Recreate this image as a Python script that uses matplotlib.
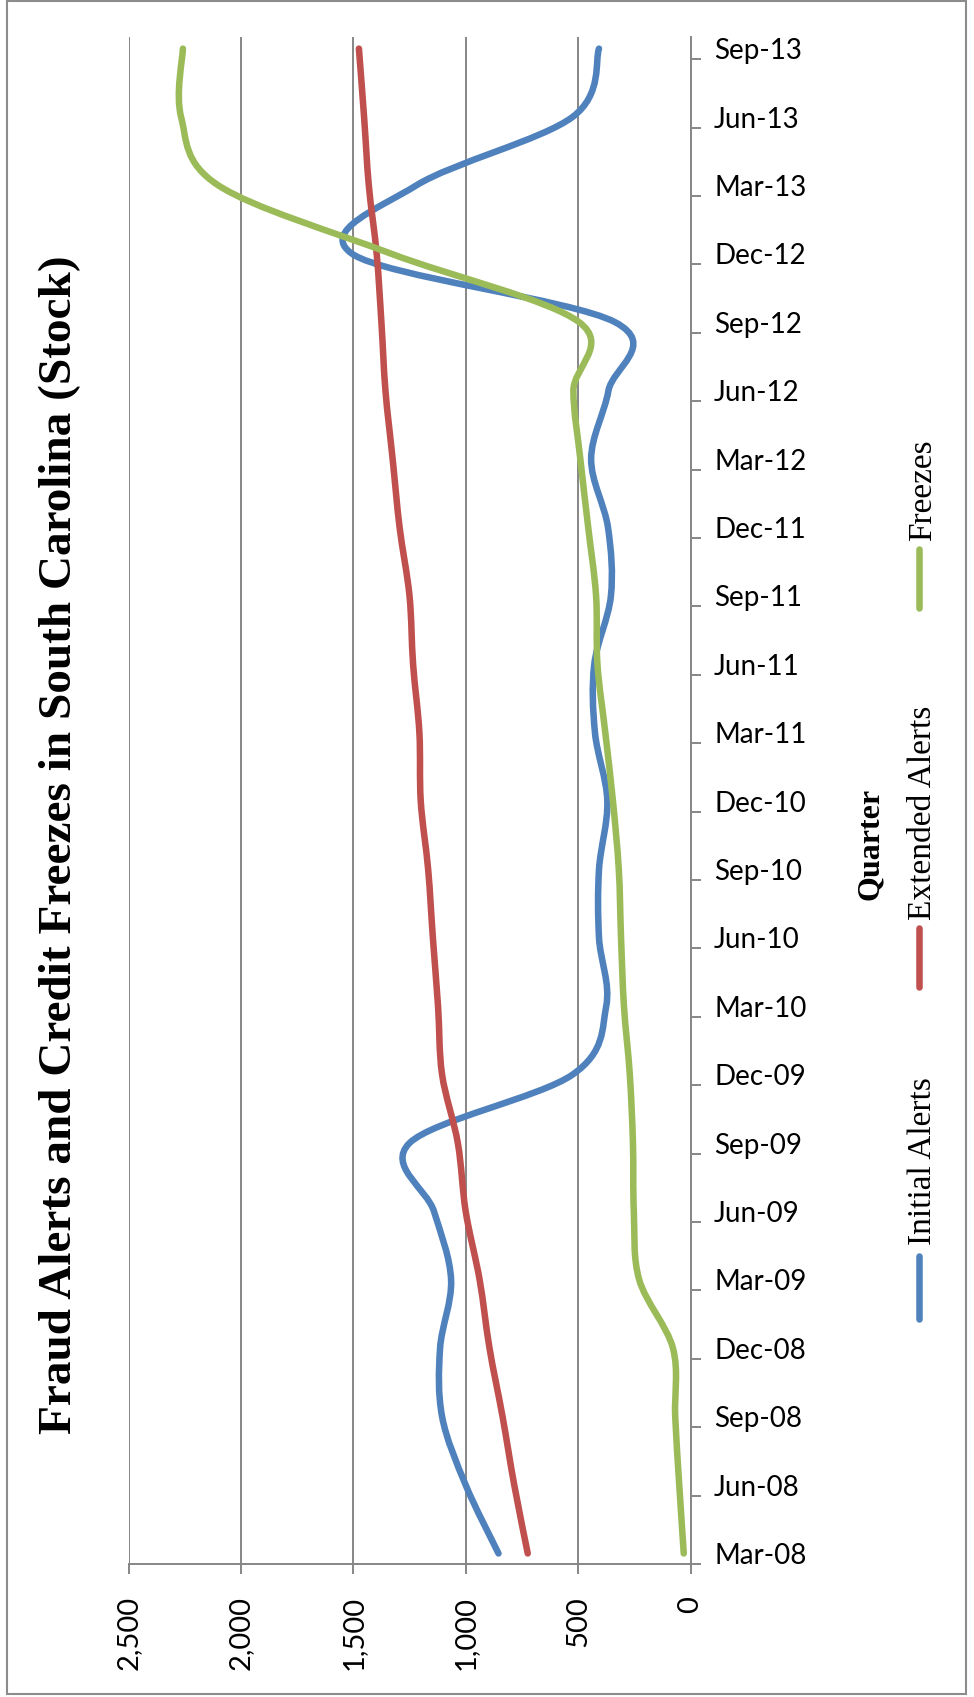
import matplotlib
matplotlib.use("Agg")
import matplotlib.pyplot as plt
from matplotlib.path import Path
from matplotlib.patches import PathPatch, Rectangle
from matplotlib.lines import Line2D

quarters = ["Mar-08", "Jun-08", "Sep-08", "Dec-08", "Mar-09", "Jun-09", "Sep-09", "Dec-09",
            "Mar-10", "Jun-10", "Sep-10", "Dec-10", "Mar-11", "Jun-11", "Sep-11", "Dec-11",
            "Mar-12", "Jun-12", "Sep-12", "Dec-12", "Mar-13", "Jun-13", "Sep-13"]
initial_alerts = [854, 1000, 1105, 1114, 1065, 1141, 1250, 525, 375, 407, 407, 370,
                  425, 428, 354, 367, 442, 365, 335, 1505, 1220, 525, 407]
extended_alerts = [724, 784, 836, 894, 938, 1000, 1035, 1105, 1123, 1146, 1167, 1200,
                   1206, 1234, 1250, 1294, 1325, 1357, 1375, 1396, 1431, 1452, 1475]
freezes = [30, 50, 68, 78, 228, 252, 256, 270, 296, 309, 319, 345,
           379, 414, 420, 455, 490, 521, 495, 1330, 2100, 2266, 2258]
value_ticks = [0, 500, 1000, 1500, 2000, 2500]

series = [("Initial Alerts", initial_alerts, "#4F81BD"),
          ("Extended Alerts", extended_alerts, "#C0504D"),
          ("Freezes", freezes, "#9BBB59")]

W, H = 974, 1697
GRAY = "#868686"
SERIF = "Liberation Serif"
SANS = ["Lato", "DejaVu Sans"]


def smooth_path(xs, ys):
    # excel style smoothed line: cubic bezier through every point
    pts = list(zip(xs, ys))
    n = len(pts)
    verts = [pts[0]]
    codes = [Path.MOVETO]
    for i in range(n - 1):
        p0 = pts[max(i - 1, 0)]
        p1 = pts[i]
        p2 = pts[i + 1]
        p3 = pts[min(i + 2, n - 1)]
        c1 = (p1[0] + (p2[0] - p0[0]) / 6, p1[1] + (p2[1] - p0[1]) / 6)
        c2 = (p2[0] - (p3[0] - p1[0]) / 6, p2[1] - (p3[1] - p1[1]) / 6)
        verts += [c1, c2, p2]
        codes += [Path.CURVE4] * 3
    return Path(verts, codes)


fig = plt.figure(figsize=(W / 100, H / 100), dpi=100)
ax = fig.add_axes([128.5 / W, 1 - 1564 / H, 562 / W, 1527 / H])

pos = list(range(len(quarters)))
for name, vals, color in series:
    patch = PathPatch(smooth_path(vals, pos), fill=False, edgecolor=color, lw=4.7,
                      capstyle="round", joinstyle="round", zorder=3)
    ax.add_patch(patch)

ax.set_xlim(2500, 0)
ax.set_ylim(-0.154, 22.17)

ax.set_xticks(value_ticks)
ax.set_xticklabels([f"{v:,}" for v in value_ticks], rotation=90, family=SANS, fontsize=21)
ax.tick_params(axis="x", direction="out", length=7, width=1.4, color=GRAY, pad=16)
ax.grid(axis="x", color=GRAY, lw=1.4)
ax.set_axisbelow(True)

ax.yaxis.tick_right()
ax.set_yticks([p - 0.154 for p in pos])
ax.set_yticklabels([])
ax.set_yticks(pos, minor=True)
ax.set_yticklabels(quarters, minor=True, family=SANS, fontsize=20)
ax.tick_params(axis="y", which="major", direction="out", length=7, width=1.4, color=GRAY)
ax.tick_params(axis="y", which="minor", length=0, pad=17)

for side in ["left", "top"]:
    ax.spines[side].set_visible(False)
for side in ["right", "bottom"]:
    ax.spines[side].set_color(GRAY)
    ax.spines[side].set_linewidth(1.4)

fig.text(60 / W, 1 - 845 / H, "Fraud Alerts and Credit Freezes in South Carolina (Stock)",
         rotation=90, ha="center", va="center", family=SERIF, fontsize=34, fontweight="bold")
fig.text(870 / W, 1 - 844 / H, "Quarter", rotation=90, ha="center", va="center",
         family=SERIF, fontsize=23, fontweight="bold")

# legend drawn by hand, rotated with the rest of the chart
legend_spots = [(1256, 1319, 1245), (928, 987, 920), (549, 608, 541)]
for (name, vals, color), (y0, y1, ty) in zip(series, legend_spots):
    fig.add_artist(Line2D([919 / W, 919 / W], [1 - y0 / H, 1 - y1 / H], color=color, lw=4.7,
                          solid_capstyle="round", transform=fig.transFigure))
    fig.text(923 / W, 1 - ty / H, name, rotation=90, ha="center", va="bottom",
             family=SERIF, fontsize=24)

fig.patches.append(Rectangle((7 / W, 1 - 1694 / H), 959 / W, 1693 / H, fill=False,
                             edgecolor="#8c8c8c", lw=1.5, transform=fig.transFigure, figure=fig))

fig.savefig("out.png", dpi=100)
